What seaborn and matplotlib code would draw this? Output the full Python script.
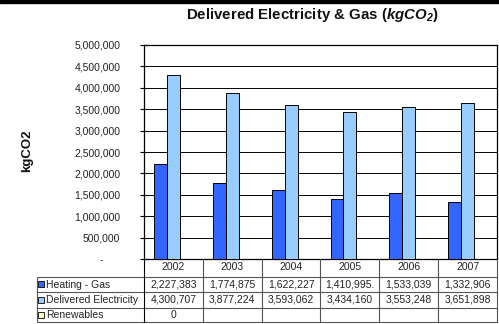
import matplotlib
matplotlib.use("Agg")
import matplotlib.pyplot as plt
import seaborn as sns
import pandas as pd
import numpy as np
from matplotlib.ticker import FuncFormatter

years = ["2002", "2003", "2004", "2005", "2006", "2007"]
series = ["Heating - Gas", "Delivered Electricity", "Renewables"]
gas = [2227383, 1774875, 1622227, 1410995.4, 1533039, 1332906]
electricity = [4300707, 3877224, 3593062, 3434160, 3553248, 3651898]
renewables = [0, np.nan, np.nan, np.nan, np.nan, np.nan]
gas_text = ["2,227,383", "1,774,875", "1,622,227", "1,410,995.", "1,533,039", "1,332,906"]
elec_text = ["4,300,707", "3,877,224", "3,593,062", "3,434,160", "3,553,248", "3,651,898"]
ren_text = ["0", "", "", "", "", ""]
colors = ["#3366FF", "#99CCFF", "#FFFFCC"]
yticks = [0, 500000, 1000000, 1500000, 2000000, 2500000, 3000000, 3500000, 4000000, 4500000, 5000000]

sns.set_theme(style="white")
plt.rcParams["font.family"] = ["Liberation Sans", "DejaVu Sans"]
plt.rcParams["mathtext.fontset"] = "custom"
plt.rcParams["mathtext.bf"] = "Liberation Sans:bold"
plt.rcParams["mathtext.it"] = "Liberation Sans:italic"
plt.rcParams["mathtext.rm"] = "Liberation Sans"
try:
    plt.rcParams["mathtext.bfit"] = "Liberation Sans:bold:italic"
except Exception:
    pass

FS = 7.5
W, H = 499, 324
fig = plt.figure(figsize=(W / 100, H / 100), dpi=100)
fig.patch.set_facecolor("white")

L, R, T, B = 144, 497, 45, 259
ax = fig.add_axes([L / W, 1 - B / H, (R - L) / W, (B - T) / H])

df = pd.DataFrame({
    "year": years * 3,
    "series": [series[0]] * 6 + [series[1]] * 6 + [series[2]] * 6,
    "value": gas + electricity + renewables,
})
sns.barplot(data=df, x="year", y="value", hue="series", hue_order=series,
            palette=colors, saturation=1, edgecolor="black", linewidth=0.7, width=0.66,
            legend=False, ax=ax, zorder=3)

ax.set_ylim(0, 5000000)
ax.set_xlim(-0.5, 5.5)
ax.set_yticks(yticks)
ax.yaxis.set_major_formatter(FuncFormatter(lambda v, p: "-      " if v == 0 else f"{int(v):,}"))
ax.set_xticks([])
ax.set_xlabel("")
ax.set_ylabel("")
ax.grid(axis="y", color="#000000", linewidth=0.7, zorder=0)
ax.set_axisbelow(True)
for s in ax.spines.values():
    s.set_color("black")
    s.set_linewidth(0.9)
ax.tick_params(axis="y", which="both", left=True, direction="inout", length=6,
               width=0.8, color="black", labelsize=FS, pad=14, labelcolor="#222222")

# top black bar
fig.patches.append(plt.Rectangle((0, 1 - 3 / H), 1, 3 / H, transform=fig.transFigure,
                                 color="black", zorder=10))

fig.text(312 / W, 1 - 15 / H, r"Delivered Electricity & Gas ($\mathbfit{kgCO_2}$)",
         ha="center", va="center", fontsize=10.8, fontweight="bold", color="#111111")
fig.text(27 / W, 1 - 151 / H, "kgCO2", rotation=90, ha="center", va="center",
         fontsize=9.5, fontweight="bold", color="#111111")

# table in pixel coordinates
tx = fig.add_axes([0, 0, 1, 1], facecolor="none")
tx.set_xlim(0, W)
tx.set_ylim(H, 0)
tx.axis("off")
cw = (R - L) / len(years)
rows_y = [259, 277, 292, 308, 322]
lc = "#555555"
for yv in rows_y[1:]:
    tx.plot([37, R], [yv, yv], color=lc, lw=0.8)
tx.plot([37, 37], [277, 322], color=lc, lw=0.8)
for k in range(len(years) + 1):
    tx.plot([L + k * cw, L + k * cw], [259, 322], color=lc if k else "black", lw=0.8)
for i, yr in enumerate(years):
    cx = L + (i + 0.5) * cw
    tx.text(cx, 267.5, yr, ha="center", va="center", fontsize=FS, color="#222222")
    for r, txts in enumerate([gas_text, elec_text, ren_text]):
        cy = (rows_y[r + 1] + rows_y[r + 2]) / 2
        tx.text(cx, cy, txts[i], ha="center", va="center", fontsize=FS, color="#222222")
for r, name in enumerate(series):
    cy = (rows_y[r + 1] + rows_y[r + 2]) / 2
    tx.add_patch(plt.Rectangle((38.5, cy - 3.2), 6, 6, facecolor=colors[r],
                               edgecolor="black", lw=0.6))
    tx.text(46, cy, name, ha="left", va="center", fontsize=FS, color="#222222")

fig.savefig("out.png", dpi=100)
